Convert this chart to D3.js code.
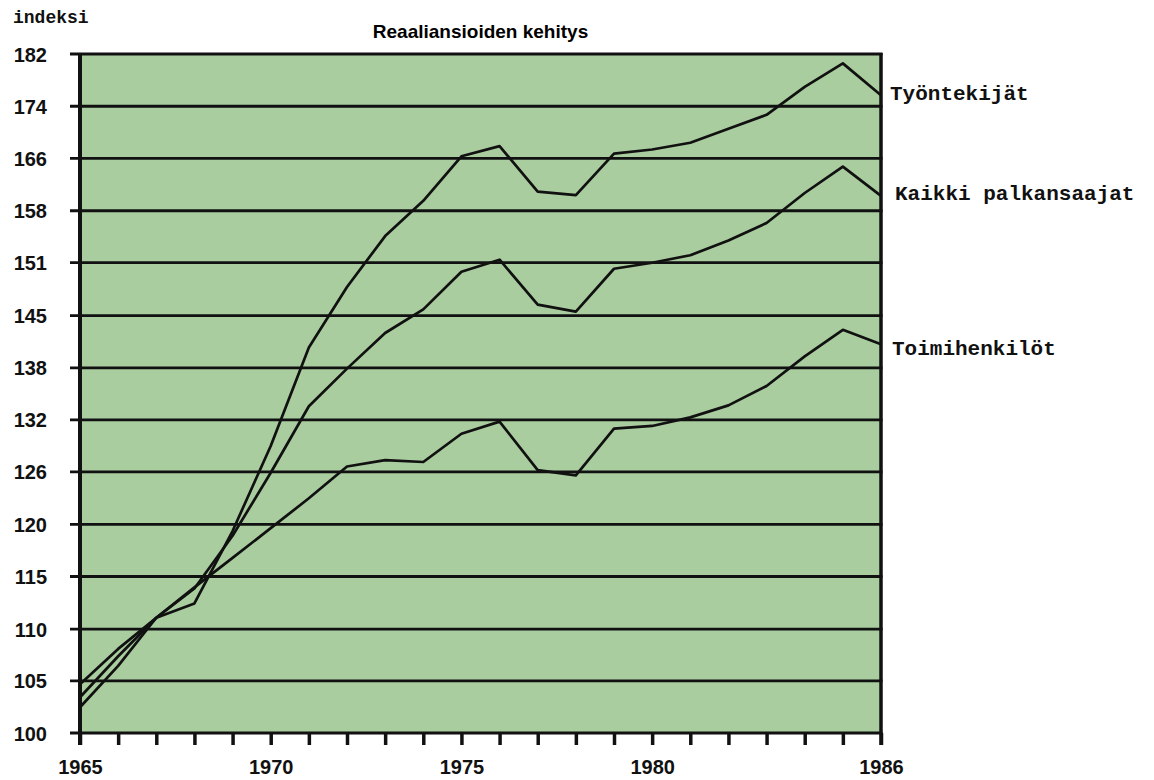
<!DOCTYPE html>
<meta charset="utf-8">
<style type="text/css">
body { margin: 0; background: #fff; }
.grid { stroke: #111; stroke-width: 2.8; }
.line { fill: none; stroke: #111; stroke-width: 2.7; stroke-linejoin: round; }
.ylab, .xlab { font-family: "Liberation Sans", Arial, sans-serif; font-weight: bold; font-size: 20px; fill: #111; }
.mono { font-family: "Liberation Mono", "Courier New", monospace; font-weight: bold; fill: #111; }
</style>
<body>
<script src="https://cdn.jsdelivr.net/npm/d3@7"></script>
<script>

// years on x axis
var years = [1965, 1966, 1967, 1968, 1969, 1970, 1971, 1972, 1973, 1974, 1975,
             1976, 1977, 1978, 1979, 1980, 1981, 1982, 1983, 1984, 1985, 1986];

// index values
var tyontekijat = [102.3, 106.1, 110.7, 112.1, 119.5, 128.8, 140.5, 148.2, 155.0, 159.9, 166.3,
                   167.8, 161.2, 160.7, 166.7, 167.3, 168.3, 170.4, 172.5, 176.8, 180.5, 175.5];
var kaikki      = [103.2, 107.0, 110.7, 113.6, 119.0, 125.8, 133.4, 137.9, 142.3, 145.3, 150.2,
                   151.8, 145.9, 145.0, 150.6, 151.4, 152.4, 154.4, 156.8, 161.0, 164.8, 160.6];
var toimihenk   = [104.4, 107.7, 110.7, 113.7, 116.7, 119.8, 123.0, 126.5, 127.2, 127.0, 130.2,
                   131.6, 126.1, 125.5, 130.8, 131.1, 132.1, 133.5, 135.8, 139.4, 142.7, 140.9];

var seriesNames = ["Työntekijät", "Kaikki palkansaajat", "Toimihenkilöt"];

// y ticks (log scale) and their printed labels
var yTicks  = [100, 104.7, 109.6, 114.8, 120.2, 125.9, 131.8, 138.0, 144.5, 151.4, 158.5, 166.0, 173.8, 182.0];
var yLabels = ["100", "105", "110", "115", "120", "126", "132", "138", "145", "151", "158", "166", "174", "182"];
var xLabelYears = [1965, 1970, 1975, 1980, 1986];

var W = 1154, H = 780;
var plot = {left: 80, right: 881, top: 54, bottom: 733};

var svg = d3.select("body").append("svg")
    .attr("width", W)
    .attr("height", H);

var x = d3.scaleLinear().domain([1965, 1986]).range([plot.left, plot.right]);
var y = d3.scaleLog().domain([100, 182]).range([plot.bottom, plot.top]);

// plot background
svg.append("rect")
    .attr("x", plot.left).attr("y", plot.top)
    .attr("width", plot.right - plot.left).attr("height", plot.bottom - plot.top)
    .attr("fill", "#a9cd9e");

// horizontal grid lines (they also make the small ticks left of the axis)
svg.selectAll(".grid").data(yTicks).enter().append("line")
    .attr("class", "grid")
    .attr("x1", plot.left - 10).attr("x2", plot.right + 1.5)
    .attr("y1", function(d) { return y(d); })
    .attr("y2", function(d) { return y(d); });

// y axis
var yAxis = d3.axisLeft(y).tickValues(yTicks).tickSize(0).tickPadding(33)
    .tickFormat(function(d, i) { return yLabels[i]; });
var gy = svg.append("g").attr("transform", "translate(" + plot.left + ",0)").call(yAxis);
gy.select(".domain").remove();
gy.selectAll("text").attr("class", "ylab").attr("dy", "0.35em");

// x axis, a tick every year
var xAxis = d3.axisBottom(x).tickValues(years).tickSize(12).tickPadding(15)
    .tickFormat(function(d) { return xLabelYears.indexOf(d) >= 0 ? d : ""; });
var gx = svg.append("g").attr("transform", "translate(0," + plot.bottom + ")").call(xAxis);
gx.select(".domain").remove();
gx.selectAll(".tick line").attr("stroke", "#111").attr("stroke-width", 3.5);
gx.selectAll("text").attr("class", "xlab");

// frame: left and right sides
svg.append("line").attr("x1", plot.left).attr("x2", plot.left).attr("y1", plot.top - 1).attr("y2", plot.bottom + 12)
    .attr("stroke", "#111").attr("stroke-width", 4);
svg.append("line").attr("x1", plot.right).attr("x2", plot.right).attr("y1", plot.top - 1).attr("y2", plot.bottom + 12)
    .attr("stroke", "#111").attr("stroke-width", 3.5);

// lines
var line = d3.line()
    .x(function(d, i) { return x(years[i]); })
    .y(function(d) { return y(d); });

[tyontekijat, kaikki, toimihenk].forEach(function(s) {
    svg.append("path").datum(s).attr("class", "line").attr("d", line);
});

// series labels on the right
var labelY = [100, 200, 355];
var labelX = [890, 895, 892];
seriesNames.forEach(function(n, i) {
    svg.append("text").attr("class", "mono")
        .attr("x", labelX[i]).attr("y", labelY[i])
        .style("font-size", "21px")
        .text(n);
});

// axis caption and title
svg.append("text").attr("class", "mono")
    .attr("x", 13).attr("y", 23)
    .style("font-size", "18px")
    .text("indeksi");

svg.append("text")
    .attr("x", (plot.left + plot.right) / 2).attr("y", 38)
    .attr("text-anchor", "middle")
    .style("font-family", "'Liberation Sans', Arial, sans-serif")
    .style("font-weight", "bold")
    .style("font-size", "19px")
    .text("Reaaliansioiden kehitys");

</script>
</body>
